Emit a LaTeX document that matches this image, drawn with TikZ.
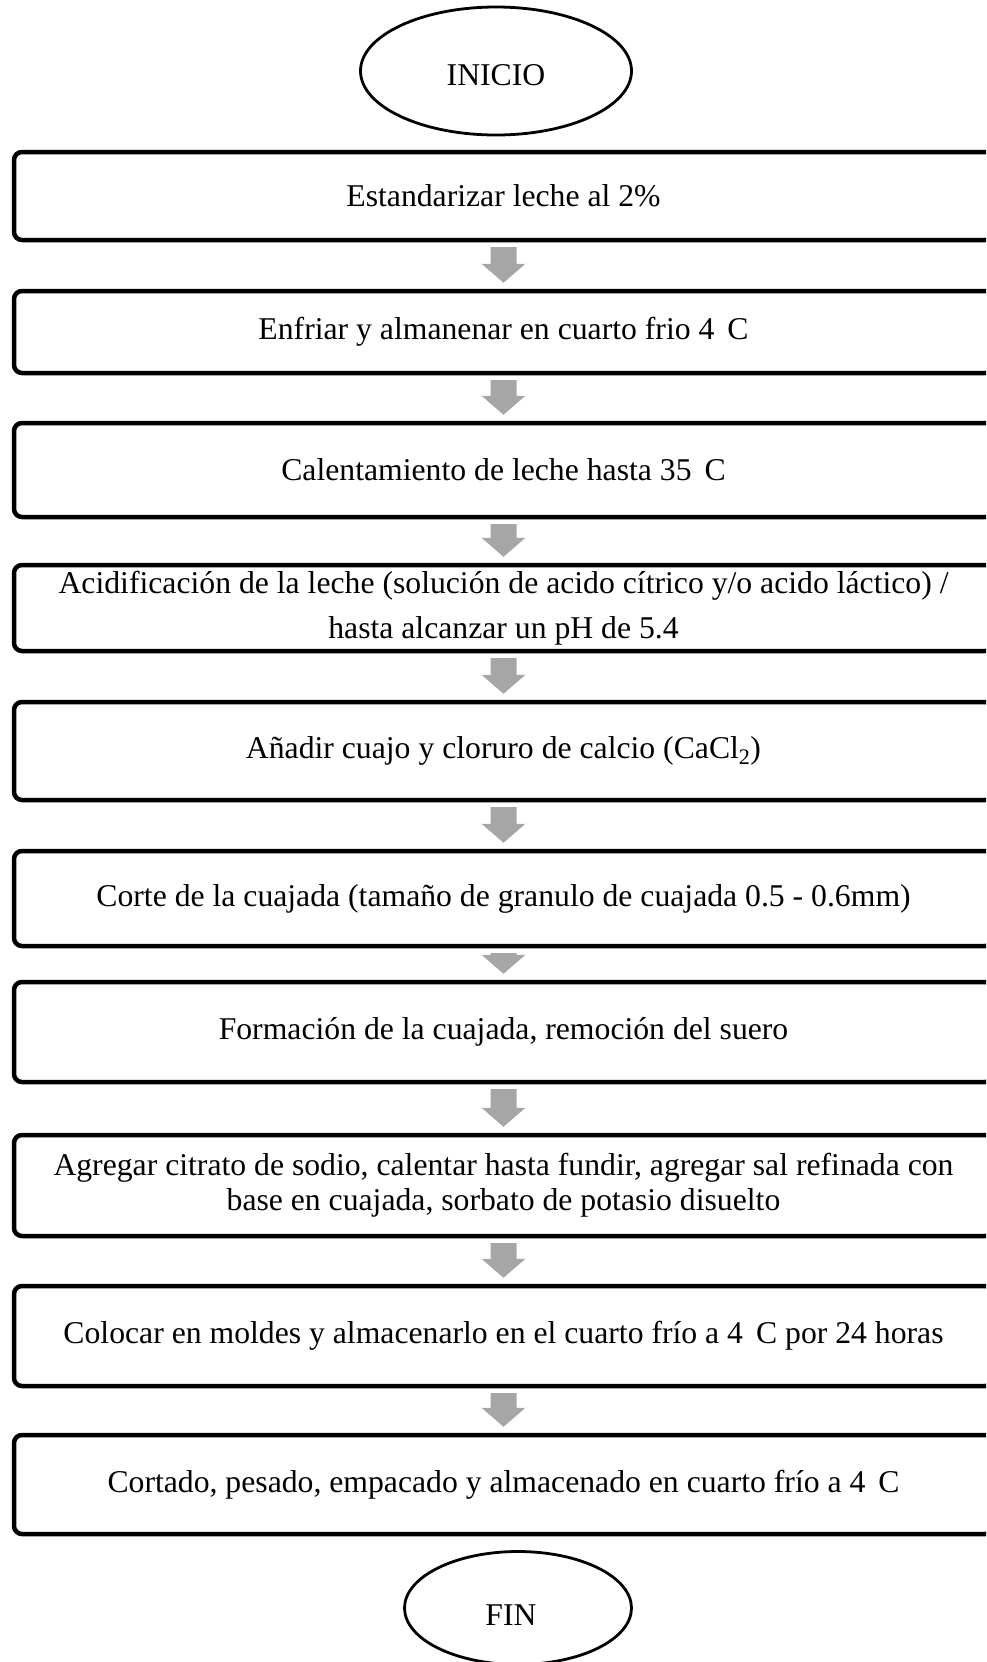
\documentclass[tikz,border=0pt]{standalone}
\usepackage{fontspec}
\setmainfont{Liberation Serif}
\usetikzlibrary{shapes.geometric,calc}
\definecolor{arrowgray}{HTML}{A6A6A6}
\newcommand\degsp{\hspace{13pt}}
\newcommand\grayarrow[2]{%
  \fill[arrowgray] ($(#1.south)+(-13,4.75)$) -- ($(#1.south)+(13,4.75)$)
    -- ($(#2.north)+(13,-25)$) -- ($(#2.north)+(22,-25)$)
    -- ($(#2.north)+(0,-6)$)
    -- ($(#2.north)+(-22,-25)$) -- ($(#2.north)+(-13,-25)$) -- cycle;}
\begin{document}
\begin{tikzpicture}[x=1pt,y=-1pt,
  stepbox/.style={draw, line width=4.5pt, rounded corners=8pt,
    minimum width=979pt, align=center, inner sep=0pt,
    font=\fontsize{31.7}{35}\selectfont},
  termnode/.style={draw, ellipse, line width=2.8pt, inner sep=0pt,
    font=\fontsize{31.7}{35}\selectfont, text depth=0pt}]
\useasboundingbox (0,0) rectangle (986,1662);
\clip (0,0) rectangle (986,1662);

\node[termnode, minimum width=271pt, minimum height=128pt, text height=29pt] (start) at (496,71) {INICIO};

\node[stepbox, minimum height=88pt] (b1) at (503.5,196) {Estandarizar leche al 2\%};
\node[stepbox, minimum height=82pt] (b2) at (503.5,332) {Enfriar y almanenar en cuarto frio 4\degsp C};
\node[stepbox, minimum height=94pt] (b3) at (503.5,470) {Calentamiento de leche hasta 35\degsp C};
\node[stepbox, minimum height=86pt, font=\fontsize{31.7}{45}\selectfont] (b4) at (503.5,608) {Acidificación de la leche (solución de acido cítrico y/o acido láctico) /\\hasta alcanzar un pH de 5.4};
\node[stepbox, minimum height=98pt] (b5) at (503.5,751) {Añadir cuajo y cloruro de calcio (CaCl\textsubscript{2})};
\node[stepbox, minimum height=95pt] (b6) at (503.5,898.5) {Corte de la cuajada (tamaño de granulo de cuajada 0.5 - 0.6mm)};
\node[stepbox, minimum height=100pt] (b7) at (503.5,1032) {Formación de la cuajada, remoción del suero};
\node[stepbox, minimum height=101pt] (b8) at (503.5,1185.5) {Agregar citrato de sodio, calentar hasta fundir, agregar sal refinada con\\base en cuajada, sorbato de potasio disuelto};
\node[stepbox, minimum height=100pt] (b9) at (503.5,1336) {Colocar en moldes y almacenarlo en el cuarto frío a 4\degsp C por 24 horas};
\node[stepbox, minimum height=99pt] (b10) at (503.5,1484.5) {Cortado, pesado, empacado y almacenado en cuarto frío a 4\degsp C};

\node[termnode, minimum width=227pt, minimum height=113pt, text height=34pt] (end) at (518,1608) {FIN\hspace*{14pt}};

\grayarrow{b1}{b2}
\grayarrow{b2}{b3}
\grayarrow{b3}{b4}
\grayarrow{b4}{b5}
\grayarrow{b5}{b6}
\grayarrow{b6}{b7}
\grayarrow{b7}{b8}
\grayarrow{b8}{b9}
\grayarrow{b9}{b10}
\end{tikzpicture}
\end{document}
